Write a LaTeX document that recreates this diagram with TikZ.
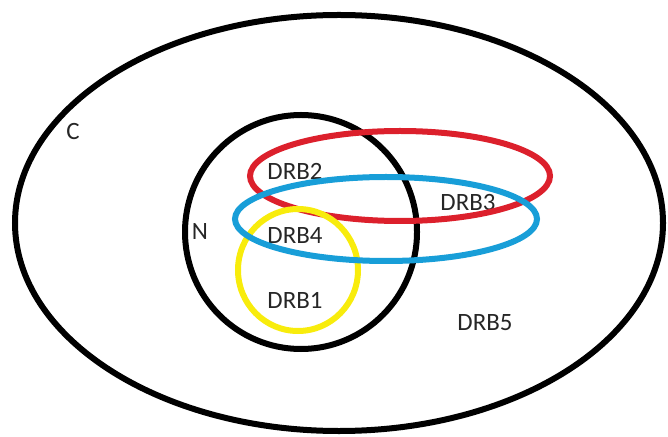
\documentclass[tikz,border=0pt]{standalone}
\usepackage{fontspec}
\setmainfont{Carlito}
\usetikzlibrary{shapes.geometric}
\definecolor{drbred}{RGB}{220,32,44}
\definecolor{drbblue}{RGB}{24,158,216}
\definecolor{drbyellow}{RGB}{248,236,12}
\tikzstyle{set}=[ellipse, draw, line width=6bp, inner sep=0pt]
\tikzset{setname/.style={font=\fontsize{25}{30}\selectfont, text=black!85, inner sep=1bp}}

\begin{document}
\begin{tikzpicture}[x=1bp,y=-1bp]
  \useasboundingbox (0,0) rectangle (668,437);

  %% Names of the sets
  \draw (73,132) node[setname] (LC) {C};
  \draw (200,232) node[setname] (LN) {N};
  \draw (295,171) node[setname] (L2) {DRB2};
  \draw (468,203) node[setname] (L3) {DRB3};
  \draw (295,236) node[setname] (L4) {DRB4};
  \draw (295,300) node[setname] (L1) {DRB1};
  \draw (485,323) node[setname] (L5) {DRB5};

  %% Sets
  \draw (339,223) node[set,minimum width=648bp,minimum height=416bp] (C) {};
  \draw (301,232) node[set,minimum width=232bp,minimum height=234bp] (N) {};
  \draw (400,176) node[set,draw=drbred,minimum width=300bp,minimum height=90bp] (DRB2) {};
  \draw (298,270) node[set,draw=drbyellow,minimum width=120bp,minimum height=122bp] (DRB1) {};
  \draw (386,219) node[set,draw=drbblue,minimum width=302bp,minimum height=84bp] (DRB4) {};
\end{tikzpicture}
\end{document}
